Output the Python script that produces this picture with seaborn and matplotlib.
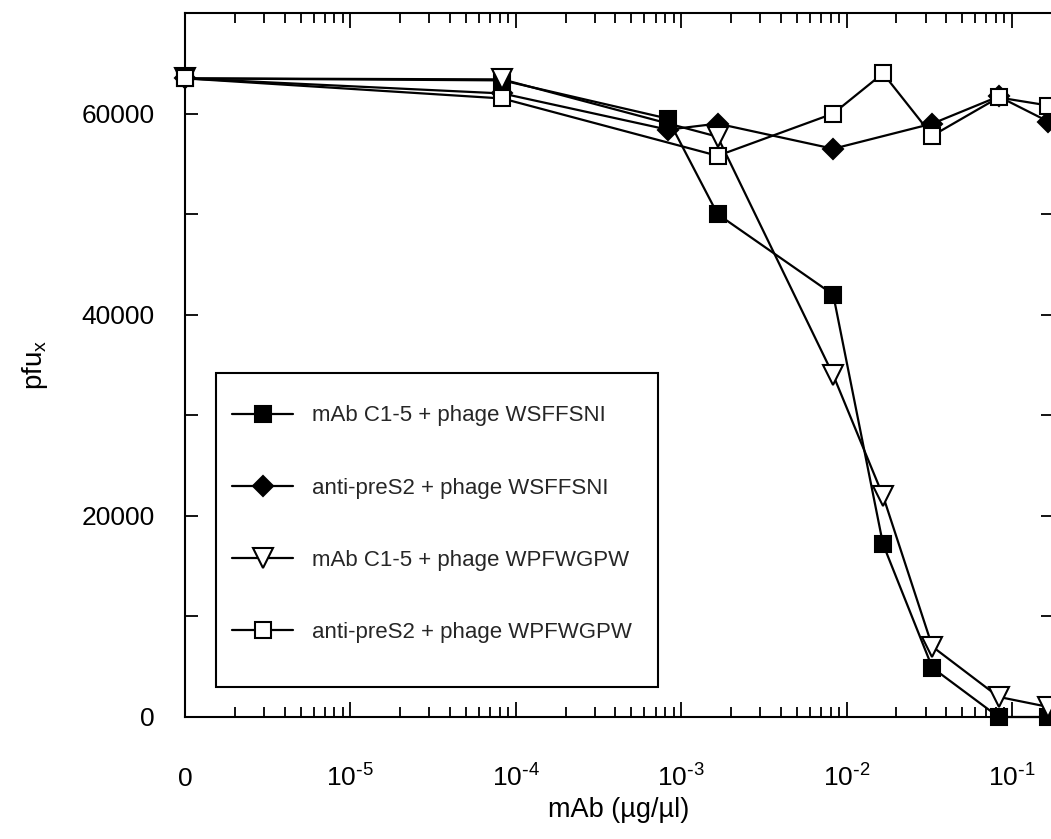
import numpy as np
import pandas as pd
import matplotlib
matplotlib.use("Agg")
import matplotlib.pyplot as plt
from matplotlib.patches import Rectangle
from matplotlib.ticker import FixedLocator, LogLocator, NullFormatter, MultipleLocator
import seaborn as sns

# mAb concentration (µg/µl); the zero dose sits at the left end of the log axis
conc = [0, 8.3e-5, 8.3e-4, 1.66e-3, 8.3e-3, 1.66e-2, 3.3e-2, 8.3e-2, 1.66e-1]
ZERO_AT = 1e-6

# pfu counts per condition (None = no measurement at that concentration)
c15_wsffsni = [63500, 63300, 59500, 50000, 42000, 17200, 4900, 0, 0]
pres2_wsffsni = [63500, 62000, 58400, 59000, 56500, None, 59000, 61700, 59200]
c15_wpfwgpw = [63500, 63400, None, 57700, 34000, 22000, 7000, 2000, 1000]
pres2_wpfwgpw = [63500, 61500, None, 55800, 60000, 64000, 57800, 61600, 60800]

labels = [
    "mAb C1-5 + phage WSFFSNI",
    "anti-preS2 + phage WSFFSNI",
    "mAb C1-5 + phage WPFWGPW",
    "anti-preS2 + phage WPFWGPW",
]
series = [c15_wsffsni, pres2_wsffsni, c15_wpfwgpw, pres2_wpfwgpw]

xtick_vals = [1e-6, 1e-5, 1e-4, 1e-3, 1e-2, 1e-1]
xtick_labels = ["0", r"$10^{\text{-}5}$", r"$10^{\text{-}4}$", r"$10^{\text{-}3}$",
                r"$10^{\text{-}2}$", r"$10^{\text{-}1}$"]
ytick_vals = [0, 20000, 40000, 60000]

sns.set_theme(style="ticks")
plt.rcParams["font.family"] = ["Liberation Sans", "DejaVu Sans"]
plt.rcParams["mathtext.default"] = "regular"

styles = [
    dict(marker="s", markersize=12, markerfacecolor="black"),
    dict(marker="D", markersize=10.5, markerfacecolor="black"),
    dict(marker="v", markersize=14, markerfacecolor="white"),
    dict(marker="s", markersize=12, markerfacecolor="white"),
]

fig = plt.figure(figsize=(10.51, 8.39), dpi=100)
ax = fig.add_axes([185 / 1051, 1 - 717 / 839, 868 / 1051, 704 / 839])

for vals, lab, st in zip(series, labels, styles):
    df = pd.DataFrame({"conc": conc, "pfu": vals}).dropna()
    df["xpos"] = df["conc"].where(df["conc"] > 0, ZERO_AT)
    sns.lineplot(data=df, x="xpos", y="pfu", ax=ax, color="black", linewidth=1.6,
                 markeredgecolor="black", markeredgewidth=1.5, label=lab,
                 sort=False, clip_on=False, zorder=3, **st)

ax.set_xscale("log")
ax.set_xlim(ZERO_AT, 0.177)
ax.set_ylim(0, 70000)

ax.xaxis.set_major_locator(FixedLocator(xtick_vals))
ax.set_xticklabels(xtick_labels)
ax.xaxis.set_minor_locator(LogLocator(base=10, subs=np.arange(2, 10)))
ax.xaxis.set_minor_formatter(NullFormatter())
ax.yaxis.set_major_locator(FixedLocator(ytick_vals))
ax.set_yticklabels([str(v) for v in ytick_vals])
ax.yaxis.set_minor_locator(MultipleLocator(10000))

ax.tick_params(which="both", direction="in", top=True, right=True, color="black",
               width=1.3, labelsize=19, labelcolor="black")
ax.tick_params(axis="x", which="major", length=11, pad=50)
ax.tick_params(axis="x", which="minor", length=7)
ax.tick_params(axis="y", which="major", length=9, pad=22)
ax.tick_params(axis="y", which="minor", length=9)
for t in ax.get_xticklabels():
    t.set_verticalalignment("baseline")

for sp in ax.spines.values():
    sp.set_color("black")
    sp.set_linewidth(1.5)

ax.set_xlabel("mAb (µg/µl)", fontsize=19.5, color="black")
ax.set_ylabel(r"pfu$_{x}$", fontsize=20, color="black")
ax.xaxis.set_label_coords(0.5, -0.113)
ax.yaxis.set_label_coords(-0.155, 0.5)

# legend frame
frame = Rectangle((31 / 868, 30 / 704), 442 / 868, 314 / 704, transform=ax.transAxes,
                  facecolor="white", edgecolor="black", linewidth=1.5, zorder=4)
ax.add_patch(frame)
leg = ax.legend(loc="upper left", bbox_to_anchor=(47 / 868, 311.5 / 704), frameon=False,
                fontsize=16, borderpad=0, borderaxespad=0, handlelength=2.75,
                handletextpad=0.86, labelspacing=2.3)
leg.set_zorder(5)

fig.savefig("out.png", dpi=100)
